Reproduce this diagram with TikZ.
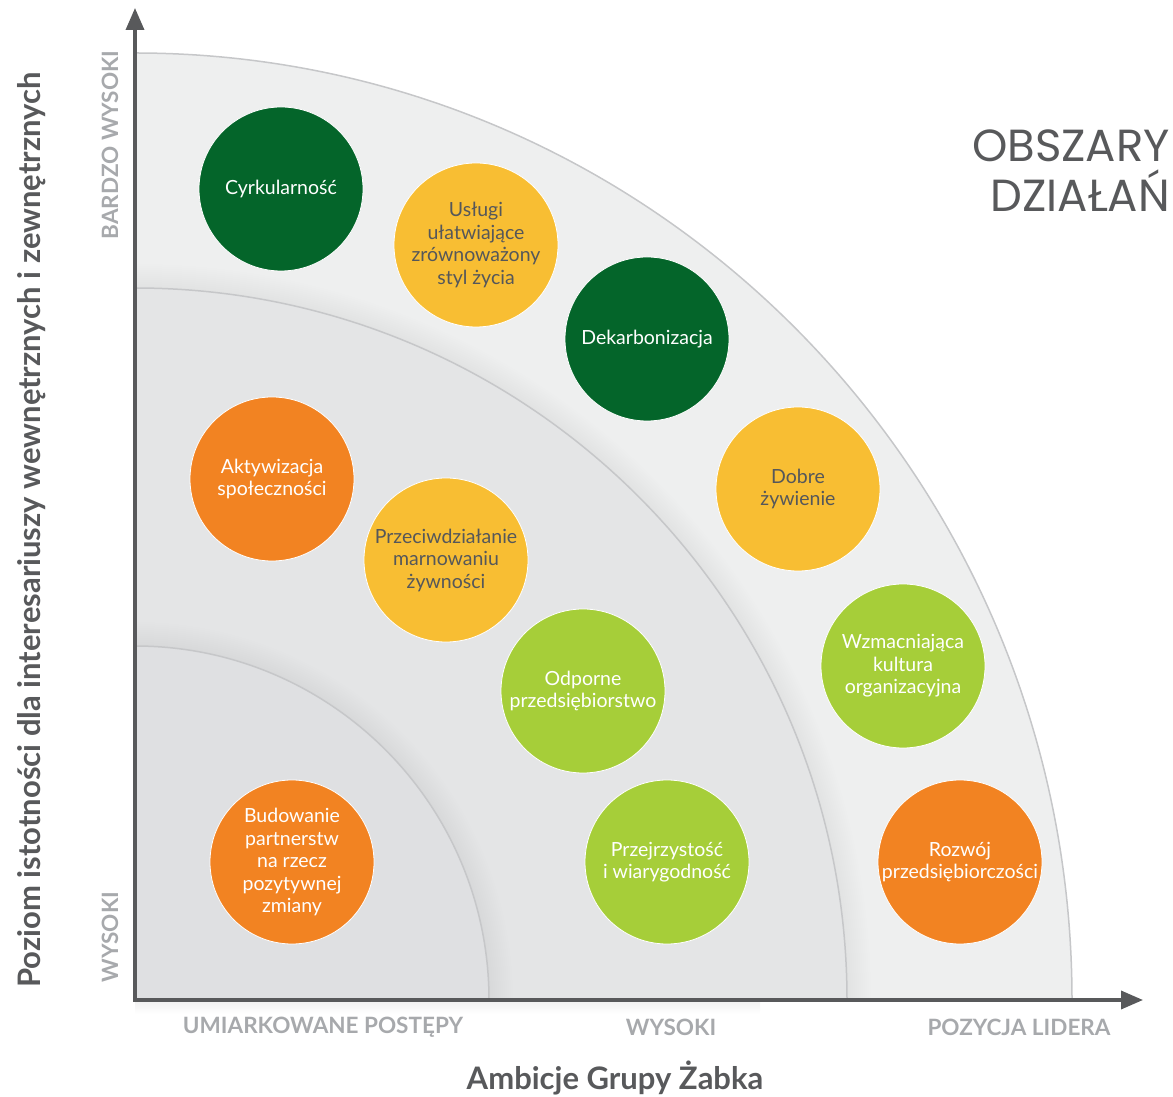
\documentclass[tikz,border=0pt]{standalone}
\usepackage{fontspec}
\setmainfont{Lato}
\newfontfamily\headfont{Poppins}
\usepackage{tikz}
\usetikzlibrary{arrows.meta, positioning}

\definecolor{zdark}{HTML}{04652A}
\definecolor{zyellow}{HTML}{F8BE33}
\definecolor{zlime}{HTML}{A6CE39}
\definecolor{zorange}{HTML}{F28322}
\definecolor{ztext}{HTML}{55575A}
\definecolor{zaxis}{HTML}{58595B}
\definecolor{zlevel}{HTML}{A7A9AC}
\definecolor{zouter}{HTML}{EEEFEF}
\definecolor{zmiddle}{HTML}{E4E5E6}
\definecolor{zinner}{HTML}{DFE0E2}
\definecolor{zarc}{HTML}{C6C7C9}

\tikzset{
	area/.style = {circle, minimum size=164pt, inner sep=0pt, draw=white, line width=0.8pt, align=center, font=\fontsize{19.5}{22.5}\selectfont},
	darkarea/.style = {area, fill=zdark, text=white},
	yellowarea/.style = {area, fill=zyellow, text=ztext},
	limearea/.style = {area, fill=zlime, text=white},
	orangearea/.style = {area, fill=zorange, text=white},
	arcline/.style = {draw=zarc, line width=1.5pt},
	axisline/.style = {draw=zaxis, line width=3.5pt, -{Triangle[length=22pt, width=18pt]}},
	level/.style = {text=zlevel, font=\fontsize{22.5}{26}\selectfont\bfseries},
	axistitle/.style = {text=zaxis, font=\fontsize{31}{35}\selectfont\bfseries},
	headline/.style = {text=zaxis, align=right, inner sep=0pt, font=\headfont\fontsize{45}{50}\selectfont}
}

\begin{document}
\begin{tikzpicture}[x=1pt, y=1pt]
	\useasboundingbox (0,0) rectangle (1173,1096);
	\coordinate (O) at (135,96);

	\fill[zouter] (O) -- ([yshift=947pt]O) arc[start angle=90, end angle=0, x radius=937, y radius=947] -- cycle;
	\foreach \k in {1,...,12}
		\fill[black, opacity=.005] (O) -- ++(0,712+2*\k) arc[start angle=90, end angle=0, radius=712+2*\k] -- cycle;
	\fill[zmiddle] (O) -- ([yshift=712pt]O) arc[start angle=90, end angle=0, radius=712] -- cycle;
	\foreach \k in {1,...,12}
		\fill[black, opacity=.005] (O) -- ++(0,354+2*\k) arc[start angle=90, end angle=0, radius=354+2*\k] -- cycle;
	\fill[zinner] (O) -- ([yshift=354pt]O) arc[start angle=90, end angle=0, radius=354] -- cycle;
	\shade[top color=black!6, bottom color=white] (135,96) rectangle (760,82);

	\draw[arcline] ([yshift=947pt]O) arc[start angle=90, end angle=0, x radius=937, y radius=947];
	\draw[arcline] ([yshift=712pt]O) arc[start angle=90, end angle=0, radius=712];
	\draw[arcline] ([yshift=354pt]O) arc[start angle=90, end angle=0, radius=354];

	\coordinate (ytip) at (135,1088);
	\coordinate (xtip) at (1143,96);
	\draw[axisline] ([yshift=-1.75pt]O) -- (ytip);
	\draw[axisline] ([xshift=-1.75pt]O) -- (xtip);

	\node[darkarea] (cyrk) at (281,907) {Cyrkularność};
	\node[yellowarea] (uslugi) at (476,851) {Usługi\\ułatwiające\\zrównoważony\\styl życia};
	\node[darkarea] (dekarb) at (647,757) {Dekarbonizacja};
	\node[yellowarea] (dobre) at (798,607) {Dobre\\żywienie};
	\node[limearea] (kultura) at (903,430) {Wzmacniająca\\kultura\\organizacyjna};
	\node[orangearea] (rozwoj) at (960,234) {Rozwój\\przedsiębiorczości};
	\node[orangearea] (aktyw) at (272,617) {Aktywizacja\\społeczności};
	\node[yellowarea] (marnow) at (446,536) {Przeciwdziałanie\\marnowaniu\\żywności};
	\node[limearea] (odporne) at (583,405) {Odporne\\przedsiębiorstwo};
	\node[limearea] (przejrz) at (667,234) {Przejrzystość\\i wiarygodność};
	\node[orangearea] (partner) at (292,234) {Budowanie\\partnerstw\\na rzecz\\pozytywnej\\zmiany};

	\node[level, rotate=90] (vhigh) at (110,951) {BARDZO WYSOKI};
	\node[level, rotate=90] (high) at (110,159) {WYSOKI};
	\node[level] (moderate) at (323,69) {UMIARKOWANE POSTĘPY};
	\node[level] (highx) at (671,69) {WYSOKI};
	\node[level] (leader) at (1019,69) {POZYCJA LIDERA};
	\node[axistitle] (xtitle) at (615,18) {Ambicje Grupy Żabka};
	\node[axistitle, rotate=90] (ytitle) at (32,566) {Poziom istotności dla interesariuszy wewnętrznych i zewnętrznych};
	\node[headline, anchor=north east] (areas) at (1170,966) {OBSZARY\\DZIAŁAŃ};
\end{tikzpicture}
\end{document}
